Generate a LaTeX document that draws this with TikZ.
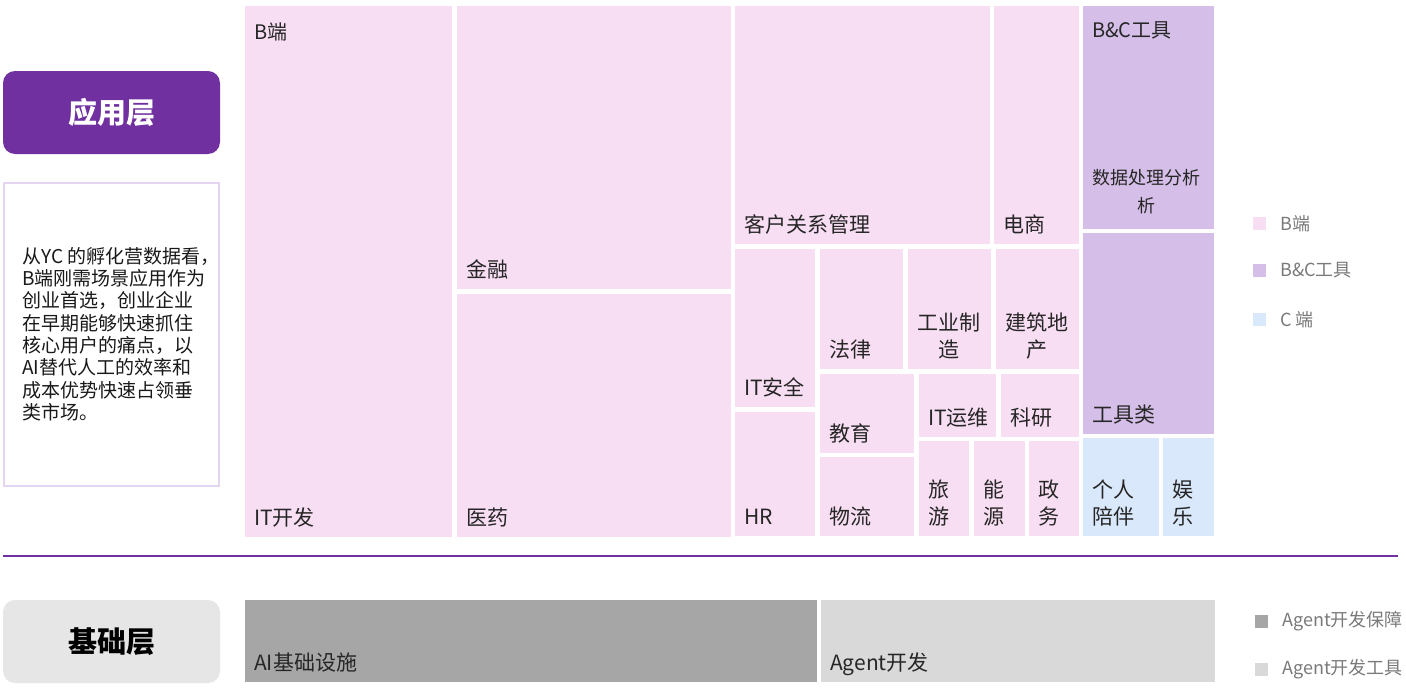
\documentclass[tikz,border=0pt]{standalone}
\usepackage{fontspec}
\setmainfont{Noto Sans CJK SC}
\usetikzlibrary{fit}
\definecolor{bpink}{HTML}{F8DEF3}
\definecolor{bctool}{HTML}{D5BFE8}
\definecolor{cblue}{HTML}{DAE8FC}
\definecolor{infra}{HTML}{A6A6A6}
\definecolor{agent}{HTML}{D9D9D9}
\definecolor{appurple}{HTML}{7030A0}
\definecolor{basegray}{HTML}{E6E6E6}
\definecolor{framecol}{HTML}{E4D6F2}
\definecolor{lbltext}{HTML}{262626}
\definecolor{legtext}{HTML}{7A7A7A}
\newcommand\cellbox[6]{\node[cell, fill=#6, fit={(#2,#3) (#4,#5)}] (#1) {};}
\newcommand\celllabel[3][]{\node[lbl,#1] (#2-l) at ([shift={(9,-7.5)}]#2.south west) {#3};}
\begin{document}
\begin{tikzpicture}[x=1pt,y=-1pt,
  cell/.style={inner sep=0pt, outer sep=0pt, draw=none},
  lbl/.style={inner sep=0pt, anchor=south west, text=lbltext, text depth=4pt, font=\fontsize{21}{27}\selectfont, align=left},
  hdr/.style={inner sep=0pt, anchor=base west, text=lbltext, font=\fontsize{20}{24}\selectfont},
  layerbox/.style={rounded corners=12pt, minimum width=217pt, minimum height=83pt, inner sep=0pt, font=\fontsize{29}{32}\selectfont\bfseries},
  legsq/.style={minimum size=13pt, inner sep=0pt, draw=none},
  legtx/.style={inner sep=0pt, anchor=west, text=legtext, font=\fontsize{18}{21}\selectfont}]
\useasboundingbox (0,0) rectangle (1406,696);
\fill[white] (0,0) rectangle (1406,696);

% left side
\node[layerbox, fill=appurple, text=white] (app) at (111.5,112.5) {应用层};
\node[draw=framecol, line width=2pt, minimum width=215pt, minimum height=303pt, inner sep=0pt] (note) at (111.5,334.5) {};
\node[inner sep=0pt, anchor=north west, align=left, text=black!90, font=\fontsize{19}{22.3}\selectfont] (notetext) at (22,247)
 {从YC 的孵化营数据看，\\B端刚需场景应用作为\\创业首选，创业企业\\在早期能够快速抓住\\核心用户的痛点，以\\AI替代人工的效率和\\成本优势快速占领垂\\类市场。};
\coordinate (sepL) at (3,556);
\coordinate (sepR) at (1398,556);
\draw[appurple, line width=1.5pt] (sepL) -- (sepR);
\node[layerbox, fill=basegray, text=black] (base) at (111.5,641.5) {基础层};

% treemap top
\cellbox{itdev}{245}{6}{452}{537}{bpink}
\cellbox{fin}{457}{6}{731}{289}{bpink}
\cellbox{med}{457}{294}{731}{537}{bpink}
\cellbox{crm}{735}{6}{990}{244}{bpink}
\cellbox{ecom}{994}{6}{1079}{244}{bpink}
\cellbox{itsec}{735}{249}{815}{407}{bpink}
\cellbox{hr}{735}{412}{815}{536}{bpink}
\cellbox{law}{820}{249}{903}{369}{bpink}
\cellbox{ind}{908}{249}{991}{369}{bpink}
\cellbox{real}{996}{249}{1079}{369}{bpink}
\cellbox{edu}{820}{374}{914}{453}{bpink}
\cellbox{logi}{820}{457}{914}{536}{bpink}
\cellbox{itops}{919}{374}{996}{437}{bpink}
\cellbox{sci}{1001}{374}{1079}{437}{bpink}
\cellbox{travel}{919}{441}{969}{536}{bpink}
\cellbox{energy}{974}{441}{1025}{536}{bpink}
\cellbox{gov}{1029}{441}{1079}{536}{bpink}
\cellbox{data}{1083}{6}{1214}{229}{bctool}
\cellbox{tool}{1083}{233}{1214}{434}{bctool}
\cellbox{comp}{1083}{438}{1159}{536}{cblue}
\cellbox{ent}{1163}{438}{1214}{536}{cblue}

\node[hdr] (itdev-h) at ([shift={(9,33)}]itdev.north west) {B端};
\node[hdr] (data-h) at ([shift={(9,31)}]data.north west) {B\&C工具};

\celllabel{itdev}{IT开发}
\celllabel{fin}{金融}
\celllabel{med}{医药}
\celllabel{crm}{客户关系管理}
\celllabel{ecom}{电商}
\celllabel{itsec}{IT安全}
\celllabel{hr}{HR}
\celllabel{law}{法律}
\celllabel[align=center]{ind}{工业制\\造}
\celllabel[align=center]{real}{建筑地\\产}
\celllabel{edu}{教育}
\celllabel{logi}{物流}
\celllabel{itops}{IT运维}
\celllabel{sci}{科研}
\celllabel{travel}{旅\\游}
\celllabel{energy}{能\\源}
\celllabel{gov}{政\\务}
\celllabel[align=center, yshift=5pt, font=\fontsize{18}{28}\selectfont]{data}{数据处理分析\\析}
\celllabel{tool}{工具类}
\celllabel{comp}{个人\\陪伴}
\celllabel{ent}{娱\\乐}

% bottom treemap
\cellbox{infrabox}{245}{600}{817}{682}{infra}
\cellbox{agentbox}{821}{600}{1215}{682}{agent}
\celllabel{infrabox}{AI基础设施}
\celllabel{agentbox}{Agent开发}

% legends
\node[legsq, fill=bpink] (lg1) at (1259.5,223.5) {};
\node[legtx] (lg1t) at (1280,223.5) {B端};
\node[legsq, fill=bctool] (lg2) at (1259.5,270.5) {};
\node[legtx] (lg2t) at (1280,270.5) {B\&C工具};
\node[legsq, fill=cblue] (lg3) at (1259.5,319.5) {};
\node[legtx] (lg3t) at (1280,319.5) {C 端};
\node[legsq, fill=infra] (lg4) at (1261.5,621) {};
\node[legtx] (lg4t) at (1282,621) {Agent开发保障};
\node[legsq, fill=agent] (lg5) at (1261.5,669.5) {};
\node[legtx] (lg5t) at (1282,669.5) {Agent开发工具};
\end{tikzpicture}
\end{document}
